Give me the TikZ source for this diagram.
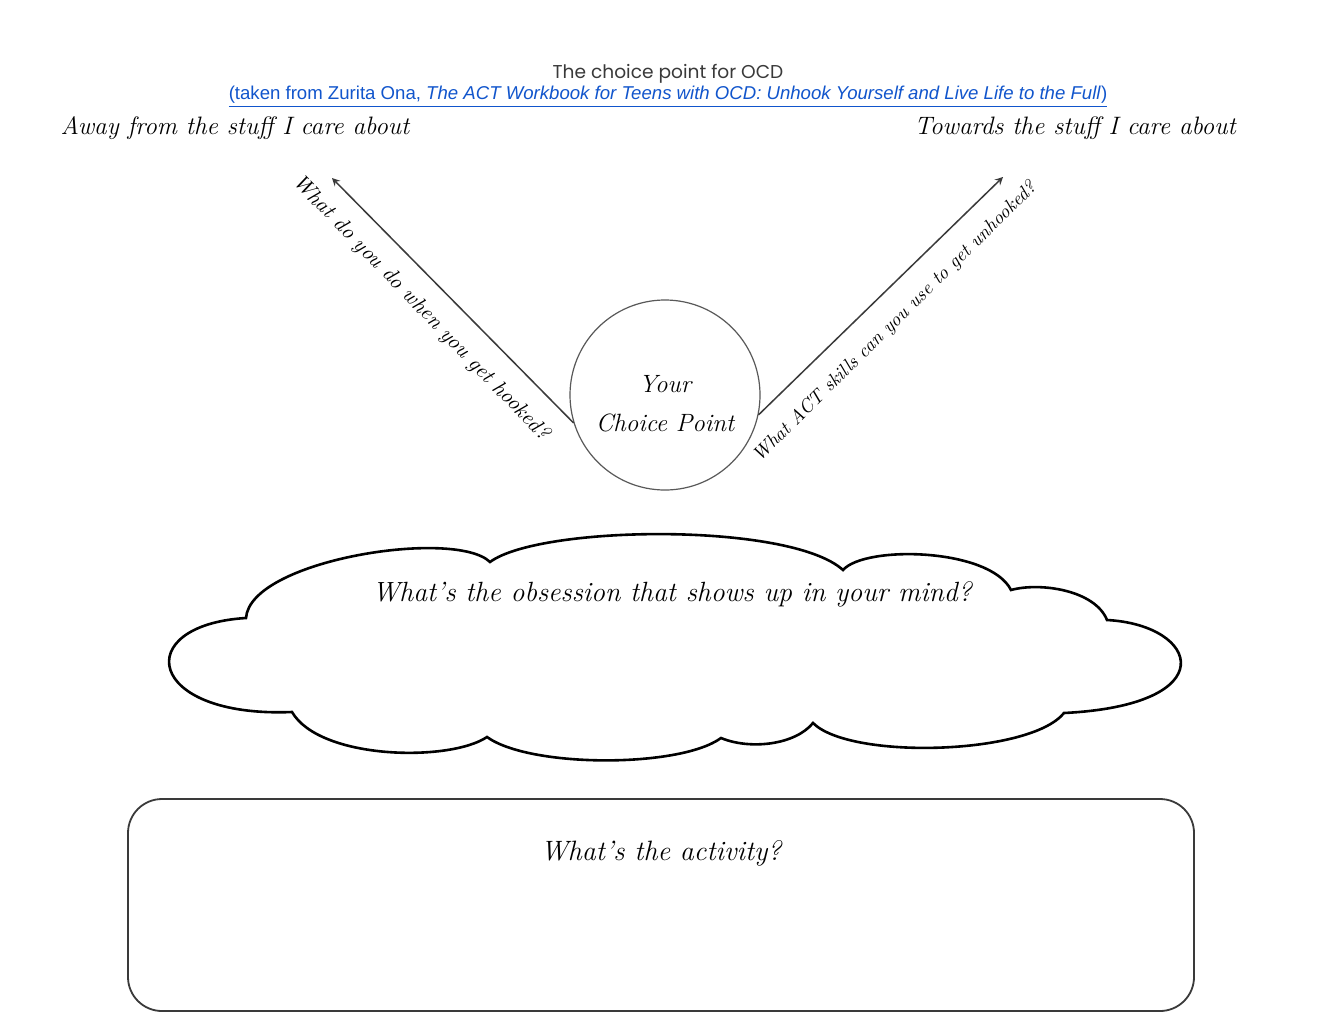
\documentclass[tikz,border=0pt]{standalone}
\usepackage{fontspec}
\usepackage{tikz}
\usetikzlibrary{positioning}
\newfontfamily\titlefont{Poppins}
\newfontfamily\linkfont{Liberation Sans}
\definecolor{linkblue}{HTML}{1155CC}
\definecolor{inkgray}{HTML}{3A3A3A}
\tikzstyle{hand}=[text=black, inner sep=0pt]
\tikzstyle{ray}=[draw=inkgray, line width=0.75pt, -stealth]

\begin{document}
\begin{tikzpicture}[x=0.5pt, y=-0.5pt]
	\fill[white] (0, 0) rectangle (1337, 1033);
	\useasboundingbox (0, 0) rectangle (1337, 1033);
	% heading
	\node (title) [inner sep=0pt, text=inkgray, font=\titlefont\fontsize{9.3}{11}\selectfont] at (668, 74) {The choice point for OCD};
	\node (source) [inner sep=0pt, text=linkblue, font=\linkfont\fontsize{9.3}{11}\selectfont] at (668, 97) {\underline{(taken from Zurita Ona, \textit{The ACT Workbook for Teens with OCD: Unhook Yourself and Live Life to the Full})}};
	\node (away) [hand, font=\fontsize{12.6}{14}\selectfont\itshape] at (235, 128) {Away from the stuff I care about};
	\node (towards) [hand, font=\fontsize{12.6}{14}\selectfont\itshape] at (1075, 128) {Towards the stuff I care about};
	% choice point
	\node (choice) [circle, draw=gray!70!black, line width=0.6pt, minimum size=95pt, inner sep=0pt] at (665, 395) {};
	\node (choicelabel) [hand, align=center, yshift=-4.5pt, font=\fontsize{12.5}{19.5}\selectfont\itshape] at (choice) {Your\\Choice Point};
	\coordinate (awaytip) at (332, 178);
	\coordinate (towardstip) at (1003, 177);
	\draw [ray] (choice.197) -- (awaytip);
	\draw [ray] (choice.348) -- (towardstip);
	\node (hooked) [hand, rotate=-45.9, font=\fontsize{10.7}{13}\selectfont\itshape] at (421, 308) {What do you do when you get hooked?};
	\node (unhooked) [hand, rotate=44.6, font=\fontsize{9.5}{12}\selectfont\itshape] at (895, 322) {What ACT skills can you use to get unhooked?};
	% cloud
	\draw [line width=1.3pt, draw=black] (246, 618)
		.. controls (250, 560) and (455, 528) .. (490, 562)
		.. controls (540, 525) and (790, 522) .. (843, 570)
		.. controls (865, 545) and (990, 548) .. (1011, 590)
		.. controls (1040, 582) and (1095, 590) .. (1107, 620)
		.. controls (1200, 625) and (1225, 705) .. (1064, 713)
		.. controls (1030, 755) and (850, 760) .. (813, 723)
		.. controls (795, 745) and (750, 750) .. (721, 738)
		.. controls (680, 768) and (530, 768) .. (487, 737)
		.. controls (450, 762) and (320, 760) .. (292, 712)
		.. controls (145, 718) and (130, 625) .. (246, 618) -- cycle;
	\node (obsession) [hand, font=\fontsize{13.9}{16}\selectfont\itshape] at (672, 594) {What's the obsession that shows up in your mind?};
	% activity box
	\node (actbox) [draw=inkgray, line width=0.9pt, rounded corners=17pt, minimum width=533pt, minimum height=106pt] at (661, 905) {};
	\node (activity) [hand, below=21pt of actbox.north, font=\fontsize{14}{16}\selectfont\itshape] {What's the activity?};
\end{tikzpicture}
\end{document}
